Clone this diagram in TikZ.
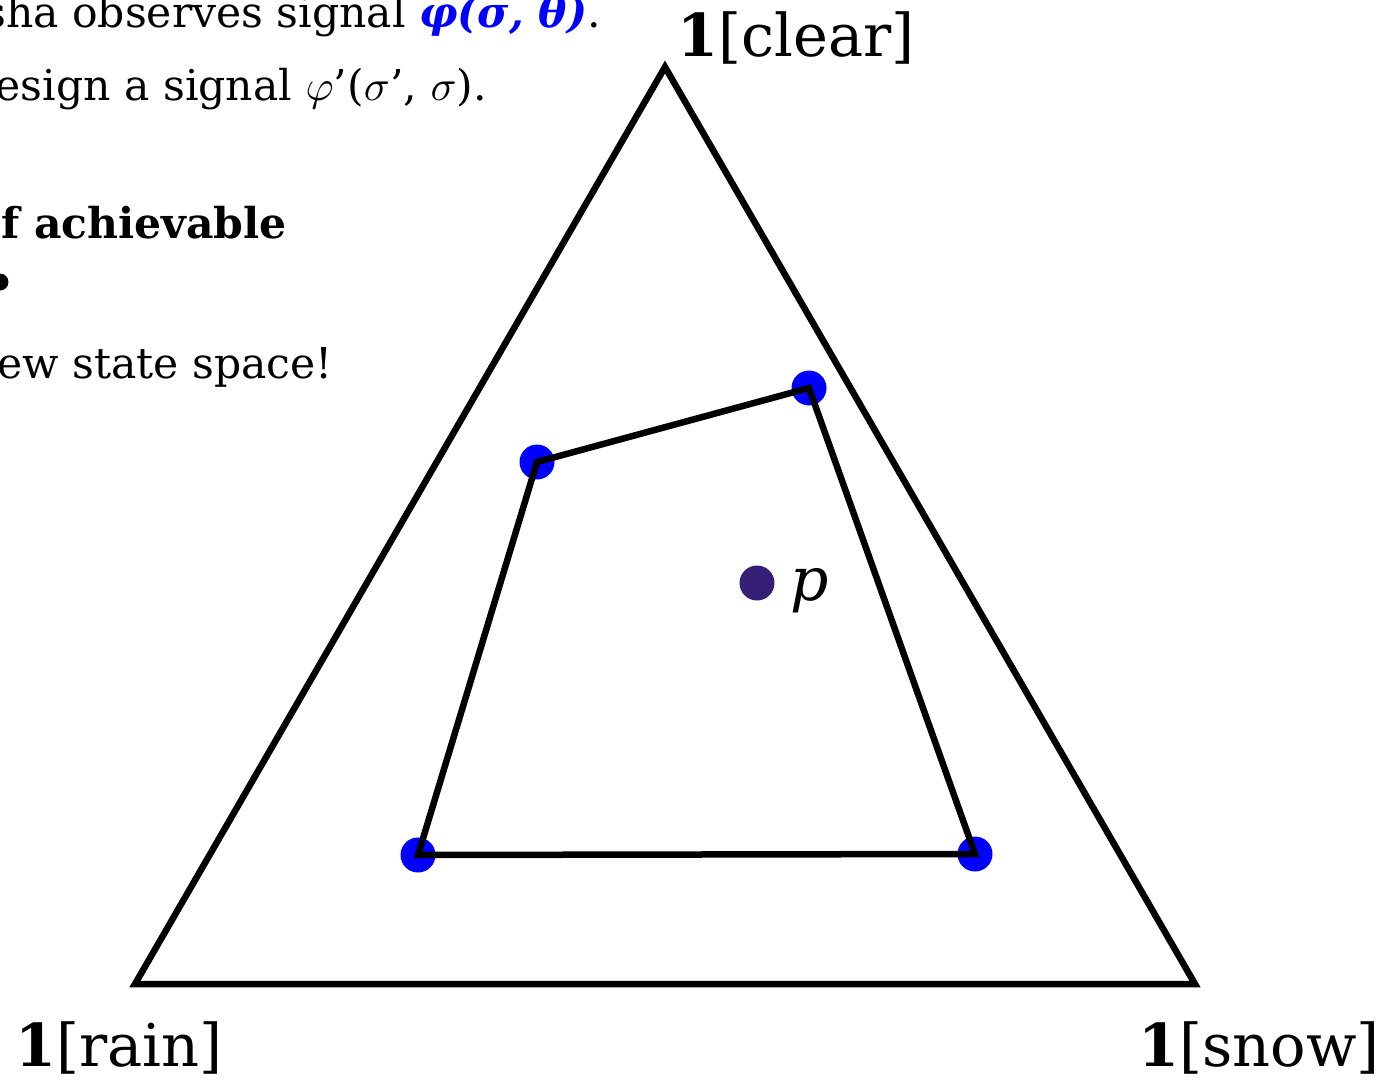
\documentclass[tikz,border=0pt]{standalone}
\usepackage{graphicx}
\usepackage{fontspec}
\setmainfont{DejaVu Serif}
\definecolor{dotpurple}{HTML}{361F77}
\newcommand{\mymath}[1]{\scalebox{4.3}{\normalsize$#1$}}
\begin{document}
\begin{tikzpicture}[x=1pt,y=-1pt,
  edge/.style={line width=6.5pt,line join=miter,black},
  bluedot/.style={circle,fill=blue,inner sep=0pt,minimum size=35pt},
  bodytext/.style={anchor=base east,inner sep=0pt,font=\fontsize{42.5}{50}\selectfont},
  cornerlabel/.style={anchor=base west,inner sep=0pt,font=\fontsize{59}{70}\selectfont}]
\useasboundingbox (0,0) rectangle (1384,1081);
% text at top left
\node[bodytext] (t1) at (601,28) {sha observes signal \textcolor{blue}{\textbf{\textit{φ(σ, θ)}}}.};
\node[bodytext] (t2) at (487,100) {esign a signal \mymath{\varphi}’(\mymath{\sigma}’, \mymath{\sigma}).};
\node[bodytext] (t3) at (287,238) {\textbf{f achievable}};
\node[circle,fill=black,inner sep=0pt,minimum size=17pt] (bul) at (0,282) {};
\node[bodytext] (t4) at (333,378) {ew state space!};
% triangle
\coordinate (top) at (665,67);
\coordinate (bl) at (135,984);
\coordinate (br) at (1195,984);
\draw[edge] (top) -- (bl) -- (br) -- cycle;
% polygon
\coordinate (q1) at (537,462);
\coordinate (q2) at (809,388);
\coordinate (q3) at (975,854);
\coordinate (q4) at (418,855);
\foreach \q in {q1,q2,q3,q4} \node[bluedot] at (\q) {};
\draw[edge] (q1) -- (q2) -- (q3) -- (q4) -- cycle;
% point p
\node[circle,fill=dotpurple,inner sep=0pt,minimum size=35pt] (p) at (757,583) {};
\node[anchor=base west,inner sep=0pt,font=\fontsize{60}{72}\selectfont] (plabel) at (790,600) {\textit{p}};
% corner labels
\node[cornerlabel] (lclear) at (677,57) {\textbf{1}[clear]};
\node[cornerlabel] (lrain) at (15,1066) {\textbf{1}[rain]};
\node[cornerlabel] (lsnow) at (1138,1066) {\textbf{1}[snow]};
\end{tikzpicture}
\end{document}
